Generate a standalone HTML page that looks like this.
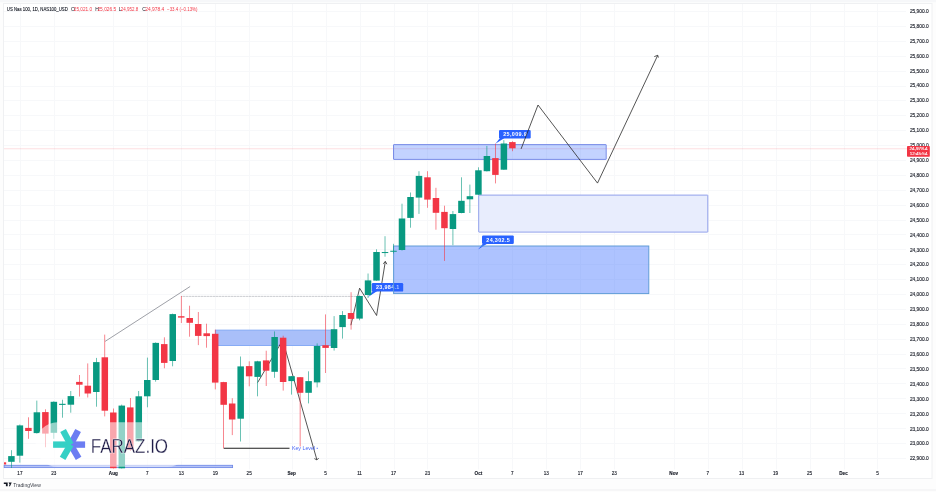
<!DOCTYPE html><html><head><meta charset="utf-8"><title>US Nas 100 chart</title><style>html,body{margin:0;padding:0;background:#fff;}svg{display:block;}</style></head><body><svg width="936" height="492" viewBox="0 0 936 492"><defs><clipPath id="cp"><rect x="4" y="4" width="902" height="466"/></clipPath></defs><rect x="0" y="0" width="936" height="492" fill="#FDFDFD"/>
<rect x="0" y="0" width="936" height="2.2" fill="#F6F7F9"/>
<rect x="3.5" y="3.5" width="928.5" height="475" fill="#fff" stroke="#EFF0F2" stroke-width="1"/>
<rect x="0" y="489.5" width="936" height="1" fill="#EFEFF1"/>
<g stroke="#F7F8FA" stroke-width="1"><line x1="20.5" y1="4.0" x2="20.5" y2="469.5"/><line x1="54.5" y1="4.0" x2="54.5" y2="469.5"/><line x1="113.5" y1="4.0" x2="113.5" y2="469.5"/><line x1="147.5" y1="4.0" x2="147.5" y2="469.5"/><line x1="181.5" y1="4.0" x2="181.5" y2="469.5"/><line x1="215.5" y1="4.0" x2="215.5" y2="469.5"/><line x1="249.5" y1="4.0" x2="249.5" y2="469.5"/><line x1="292.5" y1="4.0" x2="292.5" y2="469.5"/><line x1="326.5" y1="4.0" x2="326.5" y2="469.5"/><line x1="360.5" y1="4.0" x2="360.5" y2="469.5"/><line x1="394.5" y1="4.0" x2="394.5" y2="469.5"/><line x1="427.5" y1="4.0" x2="427.5" y2="469.5"/><line x1="478.5" y1="4.0" x2="478.5" y2="469.5"/><line x1="512.5" y1="4.0" x2="512.5" y2="469.5"/><line x1="546.5" y1="4.0" x2="546.5" y2="469.5"/><line x1="580.5" y1="4.0" x2="580.5" y2="469.5"/><line x1="614.5" y1="4.0" x2="614.5" y2="469.5"/><line x1="674.5" y1="4.0" x2="674.5" y2="469.5"/><line x1="708.5" y1="4.0" x2="708.5" y2="469.5"/><line x1="742.5" y1="4.0" x2="742.5" y2="469.5"/><line x1="776.5" y1="4.0" x2="776.5" y2="469.5"/><line x1="810.5" y1="4.0" x2="810.5" y2="469.5"/><line x1="844.5" y1="4.0" x2="844.5" y2="469.5"/><line x1="877.5" y1="4.0" x2="877.5" y2="469.5"/><line x1="4.0" y1="11.5" x2="906.0" y2="11.5"/><line x1="4.0" y1="26.5" x2="906.0" y2="26.5"/><line x1="4.0" y1="41.5" x2="906.0" y2="41.5"/><line x1="4.0" y1="56.5" x2="906.0" y2="56.5"/><line x1="4.0" y1="71.5" x2="906.0" y2="71.5"/><line x1="4.0" y1="86.5" x2="906.0" y2="86.5"/><line x1="4.0" y1="100.5" x2="906.0" y2="100.5"/><line x1="4.0" y1="115.5" x2="906.0" y2="115.5"/><line x1="4.0" y1="130.5" x2="906.0" y2="130.5"/><line x1="4.0" y1="145.5" x2="906.0" y2="145.5"/><line x1="4.0" y1="160.5" x2="906.0" y2="160.5"/><line x1="4.0" y1="175.5" x2="906.0" y2="175.5"/><line x1="4.0" y1="190.5" x2="906.0" y2="190.5"/><line x1="4.0" y1="205.5" x2="906.0" y2="205.5"/><line x1="4.0" y1="220.5" x2="906.0" y2="220.5"/><line x1="4.0" y1="234.5" x2="906.0" y2="234.5"/><line x1="4.0" y1="249.5" x2="906.0" y2="249.5"/><line x1="4.0" y1="264.5" x2="906.0" y2="264.5"/><line x1="4.0" y1="279.5" x2="906.0" y2="279.5"/><line x1="4.0" y1="294.5" x2="906.0" y2="294.5"/><line x1="4.0" y1="309.5" x2="906.0" y2="309.5"/><line x1="4.0" y1="324.5" x2="906.0" y2="324.5"/><line x1="4.0" y1="339.5" x2="906.0" y2="339.5"/><line x1="4.0" y1="354.5" x2="906.0" y2="354.5"/><line x1="4.0" y1="368.5" x2="906.0" y2="368.5"/><line x1="4.0" y1="383.5" x2="906.0" y2="383.5"/><line x1="4.0" y1="398.5" x2="906.0" y2="398.5"/><line x1="4.0" y1="413.5" x2="906.0" y2="413.5"/><line x1="4.0" y1="428.5" x2="906.0" y2="428.5"/><line x1="4.0" y1="443.5" x2="906.0" y2="443.5"/><line x1="4.0" y1="458.5" x2="906.0" y2="458.5"/></g>
<line x1="4" y1="148.7" x2="907" y2="148.7" stroke="#F23645" stroke-opacity="0.16" stroke-width="1.1"/>
<g fill="none" stroke="#2A2A2A" stroke-width="0.8"><polyline points="350.9,325.2 359.6,288.2 376.6,315.5 385.3,261.6"/><polyline points="383.3,263.8 385.3,261.4 386.9,264.2"/></g>
<path d="M372.80,291.10 L368.10,297.00 L377.30,291.10 Z" fill="#2962FF"/><rect x="371.80" y="283.10" width="31.40" height="8.50" rx="1.2" fill="#2962FF"/><text x="387.80" y="289.25" text-anchor="middle" font-family="Liberation Sans, sans-serif" font-size="5.4" font-weight="bold" letter-spacing="0.35" fill="#fff">23,984.1</text>
<path d="M483.00,243.40 L478.10,249.50 L487.50,243.40 Z" fill="#2962FF"/><rect x="482.00" y="235.40" width="31.80" height="8.50" rx="1.2" fill="#2962FF"/><text x="498.20" y="241.55" text-anchor="middle" font-family="Liberation Sans, sans-serif" font-size="5.4" font-weight="bold" letter-spacing="0.35" fill="#fff">24,302.5</text>
<path d="M500.00,137.90 L495.40,143.80 L504.50,137.90 Z" fill="#2962FF"/><rect x="499.00" y="129.90" width="31.70" height="8.50" rx="1.2" fill="#2962FF"/><text x="515.15" y="136.05" text-anchor="middle" font-family="Liberation Sans, sans-serif" font-size="5.4" font-weight="bold" letter-spacing="0.35" fill="#fff">25,009.9</text>
<rect x="215.6" y="330.1" width="115.3" height="15.4" fill="#A9BFF9" fill-opacity="1" stroke="#7FA6F4" stroke-width="0.9"/>
<rect x="393.5" y="144.6" width="212.7" height="14.8" rx="0.3" fill="#2962FF" fill-opacity="0.28" stroke="#7488E6" stroke-width="0.95"/>
<rect x="478.7" y="195.1" width="229.1" height="37.0" rx="0.3" fill="#E8EDFD" stroke="#8C9CEA" stroke-width="0.95"/>
<rect x="393.6" y="246.0" width="255.2" height="47.6" fill="#2962FF" fill-opacity="0.38" stroke="#5C9AD6" stroke-width="0.95"/>
<rect x="4.2" y="465.3" width="228.4" height="2.3" fill="#B5C3F7" stroke="#6F88E6" stroke-width="0.85"/>
<line x1="105.1" y1="341.4" x2="190.1" y2="286.5" stroke="#858891" stroke-width="0.8"/>
<line x1="181.3" y1="296.4" x2="356.5" y2="296.4" stroke="#A3A6AD" stroke-width="0.8" stroke-dasharray="0.9 0.6"/>
<g fill="none" stroke="#2A2A2A" stroke-width="0.8" stroke-linejoin="miter"><polyline points="257.6,382.6 282.7,340.2 316.9,459.8"/><polyline points="314.4,458.6 316.9,459.9 318.7,458.0"/></g>
<line x1="223.8" y1="448.3" x2="289.5" y2="448.3" stroke="#1E1E1E" stroke-width="1.1"/>
<text x="291.9" y="450.1" font-family="Liberation Sans, sans-serif" font-size="5.6" fill="#4A67F5" textLength="23.2" lengthAdjust="spacingAndGlyphs">Key Level</text>
<line x1="316.6" y1="448.3" x2="318.0" y2="448.3" stroke="#3F5EF8" stroke-width="0.8"/>
<g clip-path="url(#cp)"><rect x="2.62" y="461.80" width="0.6" height="3.20" fill="#F23645"/>
<rect x="-0.33" y="462.30" width="6.5" height="2.20" fill="#F23645"/>
<rect x="11.11" y="450.20" width="0.6" height="17.80" fill="#089981"/>
<rect x="8.16" y="456.10" width="6.5" height="5.70" fill="#089981"/>
<rect x="19.60" y="424.50" width="0.6" height="38.10" fill="#089981"/>
<rect x="16.65" y="425.40" width="6.5" height="30.30" fill="#089981"/>
<rect x="28.09" y="417.30" width="0.6" height="21.50" fill="#F23645"/>
<rect x="25.14" y="427.90" width="6.5" height="3.10" fill="#F23645"/>
<rect x="36.58" y="400.60" width="0.6" height="32.90" fill="#089981"/>
<rect x="33.63" y="412.30" width="6.5" height="20.80" fill="#089981"/>
<rect x="45.07" y="409.30" width="0.6" height="37.90" fill="#F23645"/>
<rect x="42.12" y="412.10" width="6.5" height="21.50" fill="#F23645"/>
<rect x="53.56" y="401.30" width="0.6" height="37.50" fill="#089981"/>
<rect x="50.61" y="401.80" width="6.5" height="31.00" fill="#089981"/>
<rect x="62.06" y="399.70" width="0.6" height="18.00" fill="#089981"/>
<rect x="59.11" y="403.80" width="6.5" height="1.10" fill="#089981"/>
<rect x="70.55" y="391.00" width="0.6" height="21.70" fill="#089981"/>
<rect x="67.60" y="396.10" width="6.5" height="8.60" fill="#089981"/>
<rect x="79.04" y="375.00" width="0.6" height="21.50" fill="#F23645"/>
<rect x="76.09" y="381.90" width="6.5" height="2.80" fill="#F23645"/>
<rect x="87.53" y="363.40" width="0.6" height="34.10" fill="#F23645"/>
<rect x="84.58" y="385.70" width="6.5" height="7.80" fill="#F23645"/>
<rect x="96.02" y="357.90" width="0.6" height="48.80" fill="#089981"/>
<rect x="93.07" y="362.10" width="6.5" height="29.90" fill="#089981"/>
<rect x="104.51" y="334.60" width="0.6" height="81.80" fill="#F23645"/>
<rect x="101.56" y="357.30" width="6.5" height="53.40" fill="#F23645"/>
<rect x="113.00" y="408.50" width="0.6" height="59.90" fill="#F23645"/>
<rect x="110.05" y="412.50" width="6.5" height="55.70" fill="#F23645"/>
<rect x="121.49" y="404.60" width="0.6" height="63.90" fill="#089981"/>
<rect x="118.54" y="405.60" width="6.5" height="62.70" fill="#089981"/>
<rect x="129.98" y="398.00" width="0.6" height="53.00" fill="#F23645"/>
<rect x="127.03" y="407.40" width="6.5" height="42.40" fill="#F23645"/>
<rect x="138.47" y="391.00" width="0.6" height="50.60" fill="#089981"/>
<rect x="135.53" y="396.30" width="6.5" height="45.00" fill="#089981"/>
<rect x="146.97" y="357.60" width="0.6" height="49.70" fill="#089981"/>
<rect x="144.02" y="380.00" width="6.5" height="16.30" fill="#089981"/>
<rect x="155.46" y="342.40" width="0.6" height="39.30" fill="#089981"/>
<rect x="152.51" y="342.90" width="6.5" height="37.10" fill="#089981"/>
<rect x="163.95" y="337.30" width="0.6" height="31.00" fill="#F23645"/>
<rect x="161.00" y="344.10" width="6.5" height="18.80" fill="#F23645"/>
<rect x="172.44" y="313.60" width="0.6" height="52.70" fill="#089981"/>
<rect x="169.49" y="314.10" width="6.5" height="46.90" fill="#089981"/>
<rect x="180.93" y="296.00" width="0.6" height="27.00" fill="#F23645"/>
<rect x="177.98" y="316.20" width="6.5" height="1.40" fill="#F23645"/>
<rect x="189.42" y="305.70" width="0.6" height="31.00" fill="#F23645"/>
<rect x="186.47" y="318.00" width="6.5" height="4.80" fill="#F23645"/>
<rect x="197.91" y="312.00" width="0.6" height="33.10" fill="#F23645"/>
<rect x="194.96" y="324.00" width="6.5" height="11.90" fill="#F23645"/>
<rect x="206.40" y="323.70" width="0.6" height="24.00" fill="#F23645"/>
<rect x="203.45" y="333.30" width="6.5" height="2.80" fill="#F23645"/>
<rect x="214.89" y="329.60" width="0.6" height="59.80" fill="#F23645"/>
<rect x="211.94" y="333.80" width="6.5" height="48.80" fill="#F23645"/>
<rect x="223.38" y="381.80" width="0.6" height="66.60" fill="#F23645"/>
<rect x="220.43" y="382.10" width="6.5" height="22.70" fill="#F23645"/>
<rect x="231.88" y="398.20" width="0.6" height="36.90" fill="#F23645"/>
<rect x="228.93" y="403.50" width="6.5" height="16.00" fill="#F23645"/>
<rect x="240.37" y="356.50" width="0.6" height="85.00" fill="#089981"/>
<rect x="237.42" y="366.40" width="6.5" height="52.30" fill="#089981"/>
<rect x="248.86" y="361.30" width="0.6" height="25.00" fill="#F23645"/>
<rect x="245.91" y="366.10" width="6.5" height="10.20" fill="#F23645"/>
<rect x="257.35" y="360.80" width="0.6" height="35.50" fill="#089981"/>
<rect x="254.40" y="361.30" width="6.5" height="15.60" fill="#089981"/>
<rect x="265.84" y="350.70" width="0.6" height="35.30" fill="#F23645"/>
<rect x="262.89" y="360.40" width="6.5" height="10.30" fill="#F23645"/>
<rect x="274.33" y="331.40" width="0.6" height="46.40" fill="#089981"/>
<rect x="271.38" y="337.00" width="6.5" height="34.80" fill="#089981"/>
<rect x="282.82" y="335.70" width="0.6" height="54.90" fill="#F23645"/>
<rect x="279.87" y="337.70" width="6.5" height="44.30" fill="#F23645"/>
<rect x="291.31" y="376.00" width="0.6" height="18.60" fill="#089981"/>
<rect x="288.36" y="376.20" width="6.5" height="4.90" fill="#089981"/>
<rect x="299.80" y="377.00" width="0.6" height="69.50" fill="#F23645"/>
<rect x="296.85" y="377.20" width="6.5" height="15.60" fill="#F23645"/>
<rect x="308.30" y="371.30" width="0.6" height="32.10" fill="#089981"/>
<rect x="305.35" y="381.10" width="6.5" height="11.70" fill="#089981"/>
<rect x="316.79" y="343.40" width="0.6" height="44.00" fill="#089981"/>
<rect x="313.84" y="346.00" width="6.5" height="36.40" fill="#089981"/>
<rect x="325.28" y="314.40" width="0.6" height="58.60" fill="#F23645"/>
<rect x="322.33" y="345.20" width="6.5" height="2.70" fill="#F23645"/>
<rect x="333.77" y="316.10" width="0.6" height="34.50" fill="#089981"/>
<rect x="330.82" y="329.20" width="6.5" height="18.80" fill="#089981"/>
<rect x="342.26" y="311.10" width="0.6" height="27.50" fill="#089981"/>
<rect x="339.31" y="315.00" width="6.5" height="12.10" fill="#089981"/>
<rect x="350.75" y="292.20" width="0.6" height="37.40" fill="#F23645"/>
<rect x="347.80" y="313.00" width="6.5" height="5.90" fill="#F23645"/>
<rect x="359.24" y="295.50" width="0.6" height="24.80" fill="#089981"/>
<rect x="356.29" y="296.00" width="6.5" height="22.60" fill="#089981"/>
<rect x="367.73" y="273.50" width="0.6" height="24.50" fill="#089981"/>
<rect x="364.78" y="280.40" width="6.5" height="14.60" fill="#089981"/>
<rect x="376.22" y="249.30" width="0.6" height="31.50" fill="#089981"/>
<rect x="373.27" y="252.00" width="6.5" height="28.60" fill="#089981"/>
<rect x="384.71" y="236.20" width="0.6" height="20.50" fill="#089981"/>
<rect x="381.76" y="252.05" width="6.5" height="1.00" fill="#089981"/>
<rect x="393.20" y="243.80" width="0.6" height="9.60" fill="#089981"/>
<rect x="390.25" y="250.75" width="6.5" height="1.00" fill="#089981"/>
<rect x="401.70" y="203.70" width="0.6" height="46.90" fill="#089981"/>
<rect x="398.75" y="218.50" width="6.5" height="31.50" fill="#089981"/>
<rect x="410.19" y="192.50" width="0.6" height="35.20" fill="#089981"/>
<rect x="407.24" y="197.00" width="6.5" height="20.90" fill="#089981"/>
<rect x="418.68" y="171.20" width="0.6" height="42.70" fill="#089981"/>
<rect x="415.73" y="175.90" width="6.5" height="21.70" fill="#089981"/>
<rect x="427.17" y="171.20" width="0.6" height="36.60" fill="#F23645"/>
<rect x="424.22" y="177.30" width="6.5" height="22.30" fill="#F23645"/>
<rect x="435.66" y="187.80" width="0.6" height="41.90" fill="#F23645"/>
<rect x="432.71" y="198.00" width="6.5" height="14.80" fill="#F23645"/>
<rect x="444.15" y="205.70" width="0.6" height="55.20" fill="#F23645"/>
<rect x="441.20" y="211.90" width="6.5" height="16.30" fill="#F23645"/>
<rect x="452.64" y="211.00" width="0.6" height="34.20" fill="#089981"/>
<rect x="449.69" y="214.10" width="6.5" height="14.90" fill="#089981"/>
<rect x="461.13" y="177.30" width="0.6" height="36.00" fill="#089981"/>
<rect x="458.18" y="200.80" width="6.5" height="12.20" fill="#089981"/>
<rect x="469.62" y="184.60" width="0.6" height="28.40" fill="#089981"/>
<rect x="466.67" y="196.20" width="6.5" height="3.10" fill="#089981"/>
<rect x="478.12" y="167.30" width="0.6" height="27.70" fill="#089981"/>
<rect x="475.17" y="170.30" width="6.5" height="24.40" fill="#089981"/>
<rect x="486.61" y="145.90" width="0.6" height="25.60" fill="#089981"/>
<rect x="483.66" y="156.00" width="6.5" height="15.20" fill="#089981"/>
<rect x="495.10" y="143.60" width="0.6" height="39.80" fill="#F23645"/>
<rect x="492.15" y="158.10" width="6.5" height="16.80" fill="#F23645"/>
<rect x="503.59" y="140.10" width="0.6" height="29.90" fill="#089981"/>
<rect x="500.64" y="143.50" width="6.5" height="26.20" fill="#089981"/>
<rect x="512.08" y="141.20" width="0.6" height="10.00" fill="#F23645"/>
<rect x="509.13" y="142.10" width="6.5" height="6.20" fill="#F23645"/></g>
<g fill="none" stroke="#2A2A2A" stroke-width="0.8"><polyline points="521.1,148.9 538.0,105.0 597.5,183.1 657.7,55.4"/><polyline points="654.3,56.6 657.7,55.3 658.4,57.6"/></g>
<rect x="35.5" y="422.3" width="154" height="44.5" rx="22" fill="#fff" fill-opacity="0.56"/>
<g transform="translate(70.6,444.6)"><g fill="#6C7DF2"><rect x="0" y="-3.2" width="14.5" height="6.4"/><rect x="0" y="-3.2" width="16.0" height="6.4" transform="rotate(-62)"/><rect x="0" y="-3.2" width="16.0" height="6.4" transform="rotate(60)"/></g><g fill="#35D0C5"><rect x="-17.5" y="-3.2" width="17.5" height="6.4"/><rect x="-16.0" y="-3.2" width="16.0" height="6.4" transform="rotate(62)"/><rect x="-16.0" y="-3.2" width="16.0" height="6.4" transform="rotate(-60)"/></g></g>
<text x="90.7" y="452.6" font-family="Liberation Sans, sans-serif" font-size="20.2" fill="#1F1C48" stroke="#fff" stroke-width="0.3" stroke-opacity="0.9" textLength="77.4" lengthAdjust="spacingAndGlyphs">FARAZ.IO</text>
<g font-family="Liberation Sans, sans-serif" font-size="5.0" stroke-width="0.12"><g stroke="#131722"><text x="6.8" y="10.9" fill="#131722" textLength="61.0" lengthAdjust="spacingAndGlyphs">US Nas 100, 1D, NAS100_USD</text></g><text x="70.9" y="10.9" fill="#131722">O</text><text x="73.8" y="10.9" fill="#F23645" textLength="18.3" lengthAdjust="spacingAndGlyphs">25,021.0</text><text x="95.2" y="10.9" fill="#131722">H</text><text x="97.4" y="10.9" fill="#F23645" textLength="18.9" lengthAdjust="spacingAndGlyphs">25,026.5</text><text x="118.7" y="10.9" fill="#131722">L</text><text x="120.8" y="10.9" fill="#F23645" textLength="17.4" lengthAdjust="spacingAndGlyphs">24,952.8</text><text x="142.2" y="10.9" fill="#131722">C</text><text x="145.3" y="10.9" fill="#F23645" textLength="19.0" lengthAdjust="spacingAndGlyphs">24,978.4</text><text x="167.1" y="10.9" fill="#F23645" textLength="30.4" lengthAdjust="spacingAndGlyphs">−33.4 (−0.13%)</text></g>
<g font-family="Liberation Sans, sans-serif" font-size="4.8" fill="#131722" stroke="#131722" stroke-width="0.12" text-anchor="end"><text x="928.6" y="12.90">25,900.0</text><text x="928.6" y="27.82">25,800.0</text><text x="928.6" y="42.73">25,700.0</text><text x="928.6" y="57.65">25,600.0</text><text x="928.6" y="72.57">25,500.0</text><text x="928.6" y="87.48">25,400.0</text><text x="928.6" y="102.40">25,300.0</text><text x="928.6" y="117.32">25,200.0</text><text x="928.6" y="132.24">25,100.0</text><text x="928.6" y="147.15">25,000.0</text><text x="928.6" y="162.07">24,900.0</text><text x="928.6" y="176.99">24,800.0</text><text x="928.6" y="191.90">24,700.0</text><text x="928.6" y="206.82">24,600.0</text><text x="928.6" y="221.74">24,500.0</text><text x="928.6" y="236.66">24,400.0</text><text x="928.6" y="251.57">24,300.0</text><text x="928.6" y="266.49">24,200.0</text><text x="928.6" y="281.41">24,100.0</text><text x="928.6" y="296.32">24,000.0</text><text x="928.6" y="311.24">23,900.0</text><text x="928.6" y="326.16">23,800.0</text><text x="928.6" y="341.07">23,700.0</text><text x="928.6" y="355.99">23,600.0</text><text x="928.6" y="370.91">23,500.0</text><text x="928.6" y="385.82">23,400.0</text><text x="928.6" y="400.74">23,300.0</text><text x="928.6" y="415.66">23,200.0</text><text x="928.6" y="430.58">23,100.0</text><text x="928.6" y="445.49">23,000.0</text><text x="928.6" y="460.41">22,900.0</text></g>
<rect x="907" y="146.1" width="22.8" height="10.6" rx="0.8" fill="#F23645"/>
<g font-family="Liberation Sans, sans-serif" font-size="4.4" fill="#fff" text-anchor="middle" stroke="#fff" stroke-width="0.1"><text x="918.6" y="150.4" textLength="18.2" lengthAdjust="spacingAndGlyphs">24,978.4</text><text x="918.6" y="155.3" textLength="17.6" lengthAdjust="spacingAndGlyphs">12:45:54</text></g>
<g font-family="Liberation Sans, sans-serif" font-size="4.6" fill="#131722" stroke="#131722" stroke-width="0.12" text-anchor="middle"><text x="19.90" y="475.1">17</text><text x="53.86" y="475.1">23</text><text x="113.30" y="475.1" font-weight="bold">Aug</text><text x="147.27" y="475.1">7</text><text x="181.23" y="475.1">13</text><text x="215.19" y="475.1">19</text><text x="249.16" y="475.1">25</text><text x="291.61" y="475.1" font-weight="bold">Sep</text><text x="325.58" y="475.1">5</text><text x="359.54" y="475.1">11</text><text x="393.50" y="475.1">17</text><text x="427.47" y="475.1">23</text><text x="478.42" y="475.1" font-weight="bold">Oct</text><text x="512.38" y="475.1">7</text><text x="546.34" y="475.1">13</text><text x="580.31" y="475.1">17</text><text x="614.27" y="475.1">23</text><text x="673.71" y="475.1" font-weight="bold">Nov</text><text x="707.67" y="475.1">7</text><text x="741.64" y="475.1">13</text><text x="775.60" y="475.1">19</text><text x="809.56" y="475.1">25</text><text x="843.53" y="475.1" font-weight="bold">Dec</text><text x="877.49" y="475.1">5</text></g>
<g fill="#131722"><path d="M3.8,482.4 H7.7 V486.3 H5.9 V484.0 H3.8 Z"/><path d="M8.5,482.4 H11.7 L10.0,486.3 H8.9 L9.6,484.5 Z"/></g>
<text x="13.2" y="486.6" font-family="Liberation Sans, sans-serif" font-size="5.4" fill="#3A3E48" textLength="27.6" lengthAdjust="spacingAndGlyphs">TradingView</text></svg></body></html>
